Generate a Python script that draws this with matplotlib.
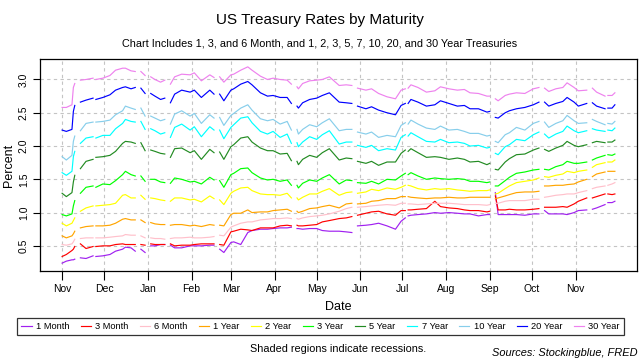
import numpy as np
import pandas as pd
import matplotlib
matplotlib.use("Agg")
import matplotlib.pyplot as plt
import matplotlib.dates as mdates

plt.rcParams['font.family'] = ['Liberation Sans', 'DejaVu Sans']

# Datas amostradas (dias úteis) e feriados sem cotação
datas = [
    "2016-11-01", "2016-11-04", "2016-11-08", "2016-11-09", "2016-11-10", "2016-11-14", "2016-11-18",
    "2016-11-23", "2016-11-25", "2016-11-30", "2016-12-05", "2016-12-09", "2016-12-14", "2016-12-16",
    "2016-12-20", "2016-12-23",
    "2016-12-27", "2016-12-30", "2017-01-03", "2017-01-06", "2017-01-10", "2017-01-13", "2017-01-17",
    "2017-01-20", "2017-01-25", "2017-01-31", "2017-02-03", "2017-02-08", "2017-02-14", "2017-02-17",
    "2017-02-21", "2017-02-24", "2017-03-01", "2017-03-03", "2017-03-08",
    "2017-03-13", "2017-03-16", "2017-03-22", "2017-03-27", "2017-03-31", "2017-04-05", "2017-04-10",
    "2017-04-13", "2017-04-17", "2017-04-18", "2017-04-21", "2017-04-26", "2017-05-01", "2017-05-05",
    "2017-05-10", "2017-05-17",
    "2017-05-22", "2017-05-26", "2017-05-30", "2017-06-05", "2017-06-09", "2017-06-14", "2017-06-20",
    "2017-06-26", "2017-06-30", "2017-07-03", "2017-07-05", "2017-07-07", "2017-07-12", "2017-07-18",
    "2017-07-24", "2017-07-28",
    "2017-08-03", "2017-08-09", "2017-08-14", "2017-08-18", "2017-08-24", "2017-08-30", "2017-09-01",
    "2017-09-05", "2017-09-07", "2017-09-12", "2017-09-15", "2017-09-20", "2017-09-26", "2017-10-02",
    "2017-10-06",
    "2017-10-10", "2017-10-13", "2017-10-18", "2017-10-23", "2017-10-26", "2017-10-31", "2017-11-03",
    "2017-11-09", "2017-11-13", "2017-11-16", "2017-11-22", "2017-11-24", "2017-11-27", "2017-11-29",
]
feriados = ["2016-11-11", "2016-11-24", "2016-12-26", "2017-01-02", "2017-01-16", "2017-02-20",
            "2017-04-14", "2017-05-29", "2017-07-04", "2017-09-04", "2017-10-09", "2017-11-10",
            "2017-11-23"]

m1 = [0.24, 0.27, 0.29, 0.29, 0.30, 0.32, 0.31, 0.35, 0.34, 0.35, 0.37, 0.42, 0.45, 0.48, 0.47, 0.42,
      0.45, 0.40, 0.50, 0.50, 0.52, 0.52, 0.51, 0.47, 0.47, 0.50, 0.50, 0.50, 0.51, 0.51, 0.45, 0.40, 0.55, 0.56, 0.52,
      0.70, 0.73, 0.75, 0.75, 0.76, 0.77, 0.77, 0.78, 0.76, 0.76, 0.75, 0.76, 0.76, 0.73, 0.72, 0.72,
      0.71, 0.70, 0.80, 0.81, 0.82, 0.84, 0.80, 0.75, 0.87, 0.92, 0.95, 0.96, 0.97, 0.98, 1.00, 0.99,
      1.00, 0.99, 0.98, 0.98, 0.95, 0.97, 0.97, 1.30, 0.97, 0.97, 0.97, 0.97, 0.96, 0.98, 0.98,
      1.03, 0.98, 0.98, 0.98, 0.97, 1.00, 1.03, 1.04, 1.05, 1.07, 1.12, 1.15, 1.15, 1.17]
m3 = [0.34, 0.37, 0.43, 0.45, 0.49, 0.53, 0.46, 0.49, 0.49, 0.50, 0.50, 0.52, 0.53, 0.52, 0.52, 0.52,
      0.52, 0.51, 0.53, 0.52, 0.52, 0.52, 0.53, 0.50, 0.51, 0.51, 0.52, 0.53, 0.53, 0.53, 0.52, 0.51, 0.71, 0.72, 0.75,
      0.74, 0.73, 0.77, 0.77, 0.77, 0.80, 0.81, 0.80, 0.81, 0.80, 0.80, 0.81, 0.82, 0.86, 0.88, 0.91,
      0.92, 0.94, 0.96, 0.99, 1.01, 1.02, 0.98, 0.96, 1.03, 1.03, 1.04, 1.04, 1.05, 1.06, 1.17, 1.09,
      1.07, 1.06, 1.04, 1.03, 1.03, 1.01, 1.02, 1.25, 1.04, 1.04, 1.05, 1.04, 1.04, 1.05, 1.06,
      1.08, 1.08, 1.08, 1.09, 1.08, 1.13, 1.17, 1.22, 1.22, 1.24, 1.28, 1.28, 1.27, 1.28]
m6 = [0.52, 0.51, 0.53, 0.56, 0.60, 0.61, 0.62, 0.62, 0.62, 0.62, 0.63, 0.64, 0.65, 0.67, 0.66, 0.66,
      0.65, 0.62, 0.62, 0.61, 0.61, 0.60, 0.61, 0.62, 0.62, 0.63, 0.62, 0.62, 0.63, 0.64, 0.66, 0.65, 0.78, 0.80, 0.84,
      0.86, 0.86, 0.89, 0.90, 0.91, 0.91, 0.92, 0.91, 0.91, 0.90, 0.92, 0.94, 0.95, 0.96, 0.98, 1.02,
      1.06, 1.08, 1.08, 1.09, 1.10, 1.11, 1.12, 1.11, 1.14, 1.14, 1.13, 1.13, 1.12, 1.13, 1.14, 1.14,
      1.14, 1.13, 1.12, 1.12, 1.12, 1.11, 1.12, 1.14, 1.14, 1.17, 1.18, 1.18, 1.18, 1.20, 1.20,
      1.23, 1.24, 1.26, 1.27, 1.28, 1.28, 1.30, 1.33, 1.36, 1.38, 1.40, 1.41, 1.43, 1.45]
y1 = [0.65, 0.62, 0.65, 0.68, 0.72, 0.77, 0.79, 0.80, 0.80, 0.80, 0.81, 0.84, 0.90, 0.91, 0.89, 0.89,
      0.89, 0.85, 0.85, 0.83, 0.82, 0.82, 0.81, 0.82, 0.82, 0.80, 0.81, 0.79, 0.82, 0.81, 0.81, 0.80, 0.97, 0.99, 0.99,
      1.04, 1.00, 1.01, 1.01, 1.03, 1.04, 1.05, 1.02, 1.02, 1.00, 1.02, 1.06, 1.07, 1.09, 1.11, 1.07,
      1.13, 1.14, 1.13, 1.14, 1.17, 1.18, 1.21, 1.21, 1.24, 1.24, 1.24, 1.23, 1.22, 1.21, 1.22, 1.22,
      1.23, 1.22, 1.22, 1.23, 1.23, 1.23, 1.23, 1.21, 1.22, 1.25, 1.27, 1.30, 1.31, 1.31, 1.32,
      1.40, 1.40, 1.41, 1.41, 1.42, 1.43, 1.46, 1.50, 1.54, 1.58, 1.61, 1.62, 1.62, 1.62]
y2 = [0.84, 0.80, 0.84, 0.88, 0.92, 1.02, 1.07, 1.10, 1.10, 1.11, 1.12, 1.14, 1.26, 1.27, 1.22, 1.22,
      1.26, 1.20, 1.22, 1.21, 1.19, 1.18, 1.17, 1.22, 1.22, 1.19, 1.20, 1.16, 1.25, 1.21, 1.19, 1.12, 1.29, 1.32, 1.37,
      1.38, 1.33, 1.28, 1.27, 1.27, 1.26, 1.29, 1.22, 1.22, 1.19, 1.23, 1.28, 1.28, 1.32, 1.36, 1.26,
      1.30, 1.31, 1.29, 1.31, 1.35, 1.33, 1.37, 1.35, 1.38, 1.41, 1.41, 1.40, 1.36, 1.34, 1.36, 1.35,
      1.36, 1.34, 1.33, 1.32, 1.33, 1.33, 1.34, 1.28, 1.29, 1.36, 1.40, 1.45, 1.47, 1.49, 1.52,
      1.54, 1.53, 1.56, 1.58, 1.62, 1.60, 1.62, 1.64, 1.68, 1.72, 1.75, 1.76, 1.76, 1.79]
y3 = [0.97, 0.95, 0.98, 1.10, 1.18, 1.29, 1.38, 1.40, 1.38, 1.43, 1.42, 1.48, 1.57, 1.62, 1.57, 1.55,
      1.55, 1.47, 1.50, 1.50, 1.46, 1.45, 1.44, 1.52, 1.50, 1.46, 1.47, 1.43, 1.53, 1.49, 1.48, 1.38, 1.57, 1.59, 1.66,
      1.67, 1.60, 1.52, 1.49, 1.50, 1.47, 1.49, 1.41, 1.41, 1.37, 1.44, 1.49, 1.47, 1.52, 1.57, 1.43,
      1.49, 1.48, 1.45, 1.44, 1.47, 1.43, 1.50, 1.49, 1.55, 1.59, 1.57, 1.60, 1.55, 1.50, 1.52, 1.51,
      1.50, 1.51, 1.50, 1.47, 1.47, 1.45, 1.46, 1.40, 1.40, 1.48, 1.53, 1.59, 1.61, 1.64, 1.65,
      1.65, 1.64, 1.69, 1.72, 1.77, 1.74, 1.74, 1.76, 1.79, 1.82, 1.86, 1.87, 1.86, 1.88]
y5 = [1.29, 1.24, 1.30, 1.46, 1.56, 1.66, 1.77, 1.80, 1.83, 1.84, 1.86, 1.92, 2.04, 2.07, 2.06, 2.04,
      2.05, 1.93, 1.94, 1.92, 1.89, 1.88, 1.83, 1.96, 1.97, 1.90, 1.93, 1.80, 1.95, 1.90, 1.91, 1.80, 1.99, 2.02, 2.12,
      2.14, 2.06, 1.97, 1.93, 1.93, 1.88, 1.89, 1.78, 1.77, 1.72, 1.80, 1.86, 1.83, 1.90, 1.96, 1.79,
      1.82, 1.81, 1.77, 1.74, 1.77, 1.71, 1.76, 1.76, 1.89, 1.94, 1.92, 1.96, 1.90, 1.83, 1.84, 1.83,
      1.80, 1.82, 1.80, 1.76, 1.77, 1.72, 1.74, 1.65, 1.64, 1.76, 1.81, 1.87, 1.88, 1.94, 1.97,
      1.95, 1.92, 1.97, 2.01, 2.07, 2.01, 1.99, 2.02, 2.05, 2.07, 2.05, 2.06, 2.06, 2.09]
y7 = [1.60, 1.56, 1.62, 1.84, 1.92, 2.04, 2.12, 2.14, 2.12, 2.16, 2.16, 2.26, 2.34, 2.40, 2.37, 2.36,
      2.37, 2.25, 2.26, 2.23, 2.18, 2.20, 2.13, 2.28, 2.33, 2.24, 2.29, 2.14, 2.29, 2.24, 2.24, 2.11, 2.28, 2.32, 2.42,
      2.44, 2.35, 2.22, 2.18, 2.22, 2.13, 2.18, 2.04, 2.05, 1.99, 2.06, 2.14, 2.10, 2.17, 2.23, 2.03,
      2.06, 2.06, 2.01, 1.98, 2.01, 1.93, 1.96, 1.94, 2.13, 2.17, 2.15, 2.20, 2.14, 2.07, 2.06, 2.10,
      2.05, 2.06, 2.04, 2.00, 2.01, 1.97, 1.98, 1.89, 1.87, 1.99, 2.02, 2.10, 2.08, 2.17, 2.21,
      2.18, 2.12, 2.18, 2.22, 2.30, 2.23, 2.20, 2.23, 2.26, 2.24, 2.22, 2.24, 2.23, 2.27]
y10 = [1.84, 1.79, 1.86, 2.07, 2.15, 2.23, 2.34, 2.36, 2.36, 2.37, 2.39, 2.47, 2.53, 2.60, 2.57, 2.55,
       2.57, 2.45, 2.45, 2.42, 2.38, 2.40, 2.33, 2.48, 2.53, 2.45, 2.49, 2.34, 2.47, 2.42, 2.43, 2.31, 2.46, 2.49, 2.57,
       2.62, 2.54, 2.41, 2.38, 2.40, 2.33, 2.37, 2.24, 2.25, 2.18, 2.25, 2.32, 2.29, 2.35, 2.41, 2.23,
       2.25, 2.25, 2.21, 2.18, 2.21, 2.13, 2.16, 2.14, 2.31, 2.35, 2.33, 2.39, 2.33, 2.27, 2.25, 2.30,
       2.24, 2.25, 2.22, 2.19, 2.19, 2.15, 2.16, 2.07, 2.05, 2.17, 2.20, 2.28, 2.24, 2.34, 2.37,
       2.36, 2.28, 2.34, 2.38, 2.46, 2.38, 2.34, 2.35, 2.40, 2.37, 2.32, 2.34, 2.33, 2.37]
y20 = [2.24, 2.22, 2.25, 2.52, 2.61, 2.66, 2.69, 2.72, 2.70, 2.73, 2.77, 2.84, 2.88, 2.89, 2.86, 2.88,
       2.87, 2.79, 2.79, 2.75, 2.70, 2.72, 2.65, 2.78, 2.84, 2.81, 2.84, 2.73, 2.84, 2.78, 2.78, 2.68, 2.84, 2.86, 2.93,
       2.97, 2.92, 2.80, 2.75, 2.76, 2.73, 2.73, 2.64, 2.60, 2.57, 2.65, 2.70, 2.72, 2.76, 2.80, 2.66,
       2.65, 2.64, 2.60, 2.56, 2.59, 2.54, 2.50, 2.47, 2.61, 2.64, 2.64, 2.70, 2.66, 2.60, 2.62, 2.68,
       2.64, 2.60, 2.61, 2.56, 2.56, 2.51, 2.52, 2.43, 2.42, 2.50, 2.53, 2.56, 2.58, 2.62, 2.66,
       2.66, 2.60, 2.64, 2.67, 2.73, 2.66, 2.60, 2.64, 2.65, 2.60, 2.56, 2.57, 2.57, 2.62]
y30 = [2.58, 2.58, 2.62, 2.88, 2.94, 2.99, 3.00, 3.02, 3.00, 3.02, 3.06, 3.14, 3.17, 3.17, 3.13, 3.12,
       3.12, 3.06, 3.04, 3.00, 2.96, 2.99, 2.93, 3.04, 3.08, 3.07, 3.10, 2.98, 3.07, 3.03, 3.04, 2.96, 3.07, 3.08, 3.14,
       3.19, 3.14, 3.05, 3.00, 3.02, 3.00, 2.99, 2.93, 2.89, 2.86, 2.94, 2.98, 2.99, 3.00, 3.04, 2.91,
       2.92, 2.91, 2.87, 2.84, 2.86, 2.79, 2.74, 2.71, 2.84, 2.86, 2.87, 2.92, 2.88, 2.81, 2.83, 2.89,
       2.86, 2.84, 2.85, 2.80, 2.79, 2.75, 2.75, 2.71, 2.68, 2.76, 2.78, 2.80, 2.79, 2.86, 2.88,
       2.87, 2.82, 2.86, 2.88, 2.95, 2.88, 2.83, 2.84, 2.87, 2.81, 2.75, 2.76, 2.76, 2.80]

nomes = ["1 Month", "3 Month", "6 Month", "1 Year", "2 Year", "3 Year", "5 Year", "7 Year",
         "10 Year", "20 Year", "30 Year"]
cores = ["#A020F0", "#FF0000", "#FFC0CB", "#FFA500", "#FFFF00", "#00FF00", "#228B22", "#00FFFF",
         "#87CEEB", "#0000FF", "#EE82EE"]

df = pd.DataFrame(dict(zip(nomes, [m1, m3, m6, y1, y2, y3, y5, y7, y10, y20, y30])),
                  index=pd.to_datetime(datas))
# feriados entram como NaN para quebrar as linhas
df = df.reindex(df.index.union(pd.to_datetime(feriados)))

fig = plt.figure(figsize=(6.4, 3.6), dpi=100)
ax = fig.add_axes([40 / 640, 1 - 271 / 360, (637 - 40) / 640, (271 - 59) / 360])

for nome, cor in zip(nomes, cores):
    ax.plot(df.index, df[nome], color=cor, lw=0.85)

# limites no estilo do R (4% de folga)
x0, x1 = mdates.date2num(df.index.min()), mdates.date2num(df.index.max())
ax.set_xlim(x0 - 0.04 * (x1 - x0), x1 + 0.04 * (x1 - x0))
vmin, vmax = np.nanmin(df.values), np.nanmax(df.values)
ax.set_ylim(vmin - 0.04 * (vmax - vmin), vmax + 0.04 * (vmax - vmin))

meses = pd.date_range("2016-11-01", "2017-11-01", freq="MS")
ax.set_xticks(mdates.date2num(meses))
ax.set_xticklabels([d.strftime("%b") for d in meses], fontsize=7.5)
yt = [0.5, 1.0, 1.5, 2.0, 2.5, 3.0]
ax.set_yticks(yt)
ax.set_yticklabels([f"{v:.1f}" for v in yt], fontsize=7.5, rotation=90, va="center")
ax.tick_params(axis="x", length=6.5, width=0.8, pad=3)
ax.tick_params(axis="y", length=5, width=0.8, pad=3)
ax.grid(True, color="#c4c4c4", linestyle=(0, (3, 3)), lw=0.8)
for s in ax.spines.values():
    s.set_linewidth(0.9)
    s.set_color("black")

fig.text(0.5, 1 - 20 / 360, "US Treasury Rates by Maturity", ha="center", va="center", fontsize=11)
fig.text(0.5, 1 - 44 / 360,
         "Chart Includes 1, 3, and 6 Month, and 1, 2, 3, 5, 7, 10, 20, and 30 Year Treasuries",
         ha="center", va="center", fontsize=7.8)
fig.text(9 / 640, 1 - 165 / 360, "Percent", rotation=90, ha="center", va="center", fontsize=9)
fig.text(338 / 640, 1 - 307 / 360, "Date", ha="center", va="center", fontsize=9)

leg = fig.legend(nomes, loc="center", bbox_to_anchor=(320.5 / 640, 1 - 326.5 / 360), ncol=11,
                 fontsize=6.7, frameon=True, fancybox=False, handlelength=1.1, handletextpad=0.45,
                 columnspacing=1.22, borderpad=0.45)
leg.get_frame().set_edgecolor("black")
leg.get_frame().set_linewidth(0.9)

fig.text(338 / 640, 1 - 349 / 360, "Shaded regions indicate recessions.", ha="center", va="center",
         fontsize=7.8)
fig.text(638 / 640, 1 - 353 / 360, "Sources: Stockingblue, FRED", ha="right", va="center",
         fontsize=7.9, style="italic")

fig.savefig("out.png", dpi=100)
